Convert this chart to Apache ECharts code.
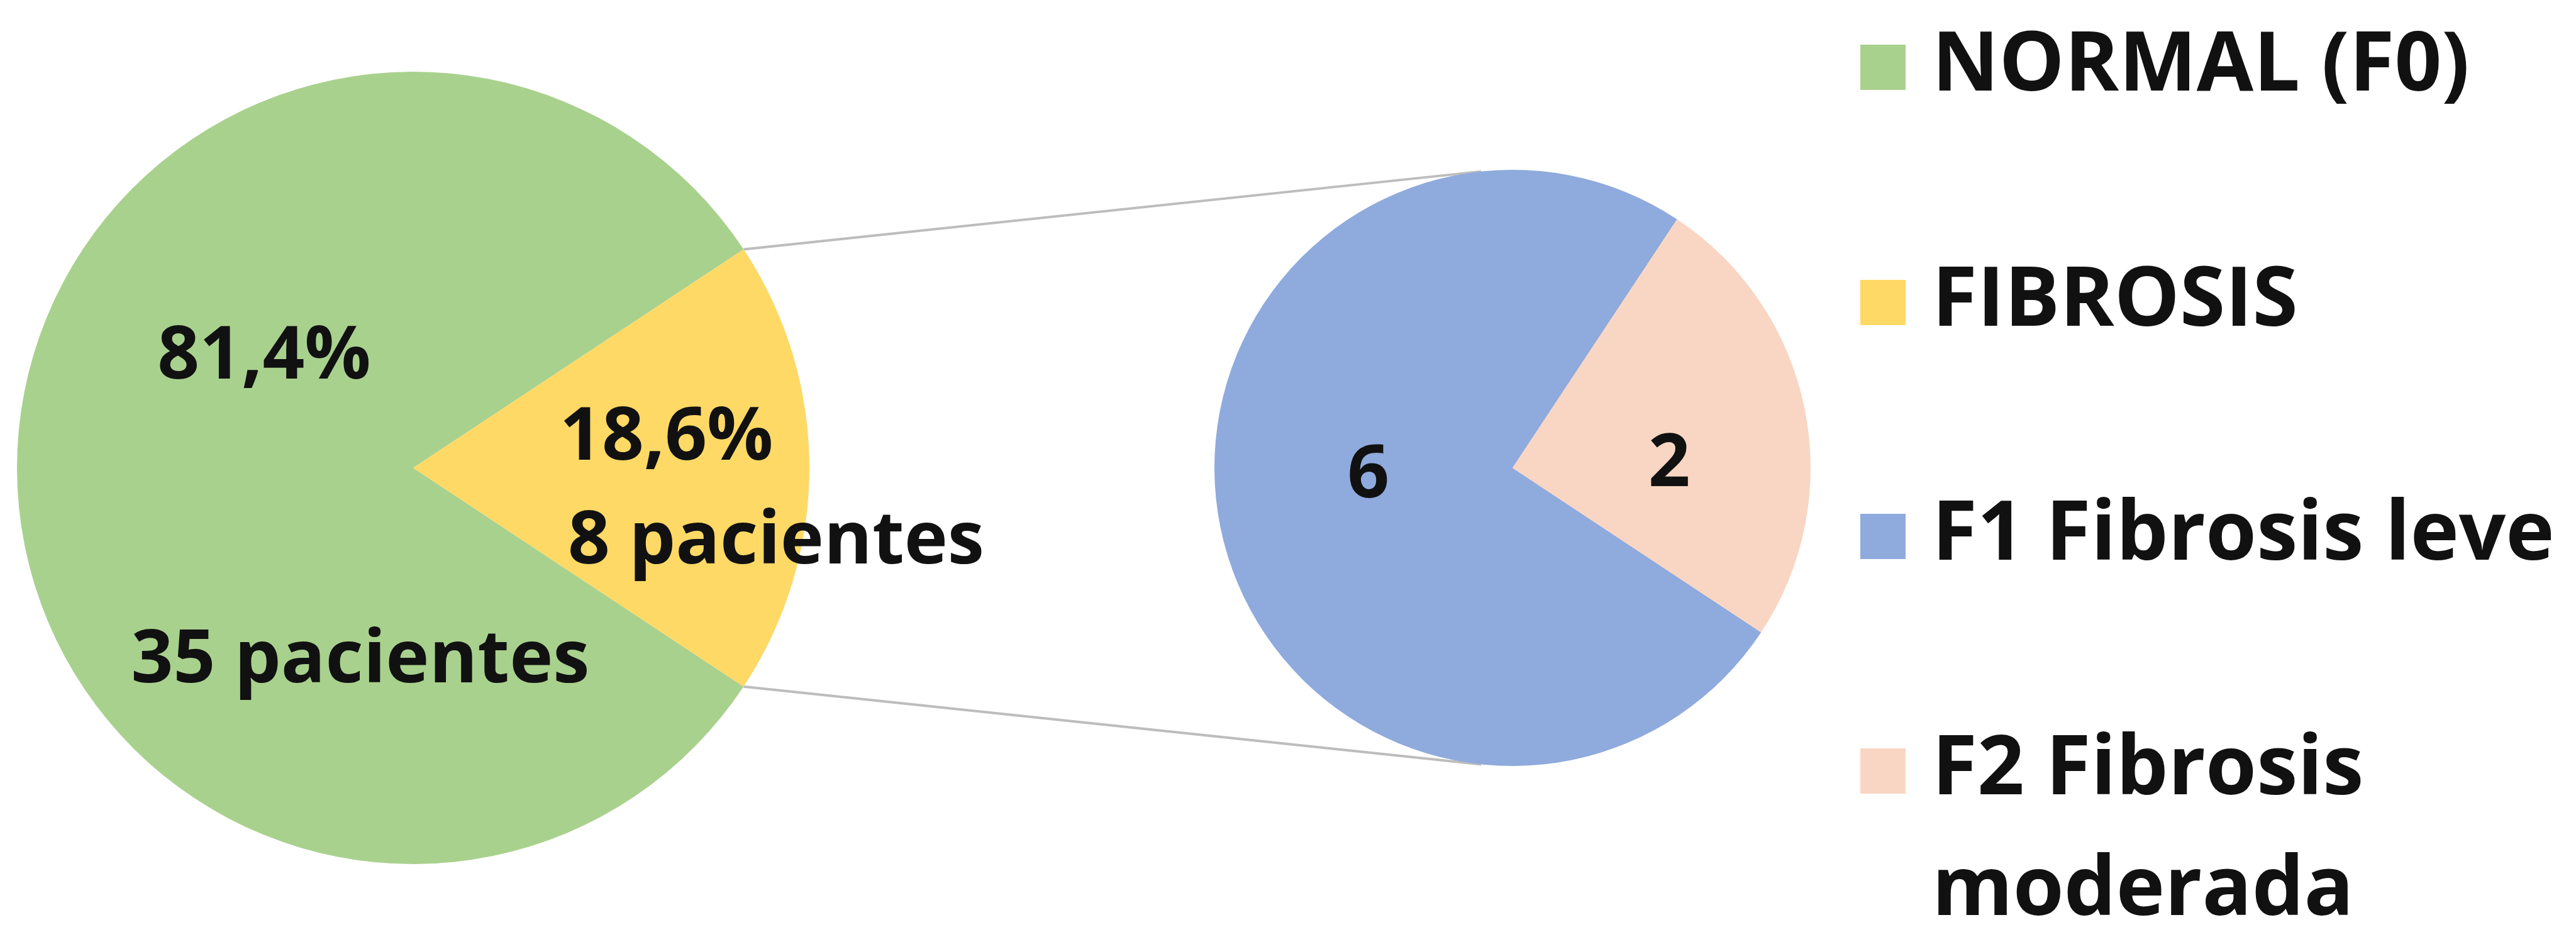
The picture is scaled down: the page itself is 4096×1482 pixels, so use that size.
<!DOCTYPE html>
<html>
<head>
<meta charset="utf-8">
<script src="https://cdn.jsdelivr.net/npm/echarts@6/dist/echarts.min.js"></script>
<style>
html,body{margin:0;padding:0;background:#ffffff;}
#c{width:4096px;height:1482px;}
</style>
</head>
<body>
<div id="c"></div>
<script>
// ---------------- data ----------------
const mainCategories = ['NORMAL (F0)', 'FIBROSIS'];
const mainValues = [35, 8];
const mainPercentLabels = ['81,4%', '18,6%'];
const mainCountLabels = ['35 pacientes', '8 pacientes'];
const subCategories = ['F1 Fibrosis leve', 'F2 Fibrosis moderada'];
const subValues = [6, 2];

// ---------------- styles ----------------
const FONT = '"Open Sans", Lato, sans-serif';
const mainColors = ['#A9D18E', '#FFD966'];
const subColors = ['#8FAADC', '#F9D6C3'];
const LABEL_FS = 117;
const LEGEND_FS = 131;
const TEXT_COLOR = '#111111';

function tok(extra) {
  return Object.assign({fontFamily: FONT, fontWeight: 'bold', fontSize: LABEL_FS, color: TEXT_COLOR}, extra || {});
}

const chart = echarts.init(document.getElementById('c'), null, {renderer: 'canvas'});

const mainData = mainCategories.map(function (name, i) {
  const item = {name: name, value: mainValues[i], itemStyle: {color: mainColors[i]}};
  if (i === 0) {
    item.label = {
      formatter: '{a|' + mainPercentLabels[i] + '}\n{b|' + mainCountLabels[i] + '}',
      rich: {
        a: tok({lineHeight: 483, padding: [0, 306, 0, 0]}),
        b: tok({lineHeight: 483, padding: [0, 60, 0, 60]})
      }
    };
  } else {
    item.label = {
      formatter: '{c|' + mainPercentLabels[i] + '}\n{d|' + mainCountLabels[i] + '}',
      rich: {
        c: tok({lineHeight: 165, align: 'left'}),
        d: tok({lineHeight: 165, align: 'left', padding: [0, 0, 0, 13]})
      }
    };
  }
  return item;
});

const subData = subCategories.map(function (name, i) {
  return {name: name, value: subValues[i], itemStyle: {color: subColors[i]}};
});

// one legend block per row so every row can sit where the reference puts it
const legendRowCenters = [107, 481, 853, 1226];
const legendNames = [mainCategories[0], mainCategories[1], subCategories[0], subCategories[1]];
const ICON = 72;
const legends = legendNames.map(function (n, i) {
  const multi = (i === 3);
  const lh = multi ? 192 : LEGEND_FS;
  const h = multi ? lh * 3 : lh;
  return {
    data: [n],
    orient: 'vertical',
    left: 2958,
    top: legendRowCenters[i] - h / 2,
    padding: 0,
    itemWidth: ICON,
    itemHeight: ICON,
    icon: 'rect',
    selectedMode: false,
    itemStyle: {borderWidth: 0},
    formatter: multi ? function (s) { return ' \n' + s.replace(' moderada', '\nmoderada'); } : '{name}',
    textStyle: {fontFamily: FONT, fontWeight: 'bold', fontSize: LEGEND_FS, color: TEXT_COLOR, lineHeight: lh, padding: [0, 0, 0, 37]}
  };
});

const option = {
  backgroundColor: '#ffffff',
  animation: false,
  legend: legends,
  series: [
    {
      type: 'pie',
      name: 'main',
      center: [657, 744],
      radius: 630,
      startAngle: 326.5,
      clockwise: true,
      avoidLabelOverlap: false,
      itemStyle: {borderWidth: 0},
      emphasis: {disabled: true},
      label: {show: true, position: 'inside', fontFamily: FONT, fontWeight: 'bold', fontSize: LABEL_FS, color: TEXT_COLOR},
      labelLine: {show: false},
      // note: the shift is applied twice by the layout pass, hence the halves
      labelLayout: function (p) {
        if (p.dataIndex === 0) return {dx: 117, dy: 33};
        return {dx: (p.labelRect.width / 2 - 85) / 2, dy: 18};
      },
      data: mainData
    },
    {
      type: 'pie',
      name: 'sub',
      center: [2405, 744],
      radius: 474,
      startAngle: 326.5,
      clockwise: true,
      avoidLabelOverlap: false,
      itemStyle: {borderWidth: 0},
      emphasis: {disabled: true},
      label: {show: true, position: 'inside', formatter: '{c}', fontFamily: FONT, fontWeight: 'bold', fontSize: LABEL_FS, color: TEXT_COLOR},
      labelLine: {show: false},
      labelLayout: function (p) {
        if (p.dataIndex === 0) return {dx: 3, dy: -17};
        return {dx: 7, dy: 22};
      },
      data: subData
    }
  ]
};

chart.setOption(option);

// connector lines derived from the library's own sector layout
function addConnectors() {
  try {
    const model = chart.getModel();
    const l0 = model.getSeriesByIndex(0).getData().getItemLayout(1);
    const l1 = model.getSeriesByIndex(1).getData().getItemLayout(0);
    const pts = [l0.startAngle, l0.endAngle].map(function (a) {
      return [l0.cx + l0.r * Math.cos(a), l0.cy + l0.r * Math.sin(a)];
    });
    const C = [l1.cx, l1.cy], R = l1.r;
    const lines = pts.map(function (P) {
      const vx = P[0] - C[0], vy = P[1] - C[1];
      const d = Math.hypot(vx, vy);
      const base = Math.atan2(vy, vx);
      const alpha = Math.acos(R / d);
      const cand = [base + alpha, base - alpha].map(function (t) {
        return [C[0] + R * Math.cos(t), C[1] + R * Math.sin(t)];
      });
      let T;
      if (P[1] < C[1]) T = cand[0][1] < cand[1][1] ? cand[0] : cand[1];
      else T = cand[0][1] > cand[1][1] ? cand[0] : cand[1];
      return {type: 'line', silent: true, z: 0,
        shape: {x1: P[0], y1: P[1], x2: T[0], y2: T[1]},
        style: {stroke: '#BDBDBD', lineWidth: 4}};
    });
    chart.setOption({graphic: lines});
  } catch (e) { console.error(e); }
}
addConnectors();
</script>
</body>
</html>
